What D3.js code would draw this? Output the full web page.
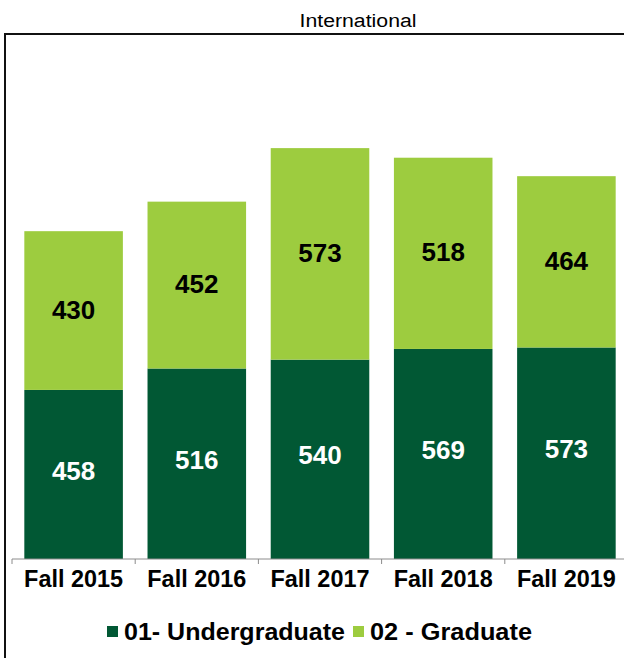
<!DOCTYPE html>
<html>
<head>
<meta charset="utf-8">
<script src="https://cdn.jsdelivr.net/npm/d3@7"></script>
<style>
  body { margin: 0; background: #fff; }
  text { font-family: "Liberation Sans", Arial, sans-serif; }
</style>
</head>
<body>
<div id="chart"></div>
<script>
// data
var terms = ["Fall 2015", "Fall 2016", "Fall 2017", "Fall 2018", "Fall 2019"];
var undergrad = [458, 516, 540, 569, 573];
var graduate = [430, 452, 573, 518, 464];
var seriesNames = ["01- Undergraduate", "02 - Graduate"];
var colors = ["#015834", "#9dcc3f"];

var W = 624, H = 658;
var svg = d3.select("#chart").append("svg")
  .attr("width", W).attr("height", H);

// outer frame (runs off the right and bottom edge)
svg.append("rect")
  .attr("x", 5).attr("y", 34)
  .attr("width", 700).attr("height", 700)
  .attr("fill", "none")
  .attr("stroke", "#111")
  .attr("stroke-width", 2);

// title
svg.append("text")
  .attr("x", 358).attr("y", 27)
  .attr("text-anchor", "middle")
  .attr("font-size", "18px")
  .attr("textLength", 117)
  .attr("lengthAdjust", "spacingAndGlyphs")
  .text("International");

// scales
var x = d3.scaleBand().domain(terms).range([12, 628])
  .paddingInner(0.2).paddingOuter(0.1);
var y = d3.scaleLinear().domain([0, 1200]).range([559, 116]);

var rows = terms.map(function (t, i) {
  return { term: t, ug: undergrad[i], gr: graduate[i] };
});

// bars
var g = svg.append("g");
rows.forEach(function (d) {
  g.append("rect")
    .attr("x", x(d.term)).attr("width", x.bandwidth())
    .attr("y", y(d.ug)).attr("height", y(0) - y(d.ug))
    .attr("fill", colors[0]);
  g.append("rect")
    .attr("x", x(d.term)).attr("width", x.bandwidth())
    .attr("y", y(d.ug + d.gr)).attr("height", y(d.ug) - y(d.ug + d.gr))
    .attr("fill", colors[1]);

  // value labels
  g.append("text")
    .attr("x", x(d.term) + x.bandwidth() / 2)
    .attr("y", (y(0) + y(d.ug)) / 2 - 4)
    .attr("dy", "0.35em")
    .attr("text-anchor", "middle")
    .attr("font-size", "26px").attr("font-weight", "bold")
    .attr("fill", "#fff")
    .text(d.ug);
  g.append("text")
    .attr("x", x(d.term) + x.bandwidth() / 2)
    .attr("y", (y(d.ug) + y(d.ug + d.gr)) / 2 - 1)
    .attr("dy", "0.35em")
    .attr("text-anchor", "middle")
    .attr("font-size", "26px").attr("font-weight", "bold")
    .attr("fill", "#000")
    .text(d.gr);
});

// x axis: line with ticks between the categories
var axis = svg.append("g").attr("transform", "translate(0,559)");
axis.append("line")
  .attr("x1", 12).attr("x2", W).attr("y1", 0).attr("y2", 0)
  .attr("stroke", "#8c8c8c");
terms.forEach(function (t) {
  var tx = x(t) - x.step() * x.paddingOuter();
  axis.append("line")
    .attr("x1", tx).attr("x2", tx).attr("y1", 0).attr("y2", 5)
    .attr("stroke", "#8c8c8c");
  axis.append("text")
    .attr("x", x(t) + x.bandwidth() / 2)
    .attr("y", 28)
    .attr("text-anchor", "middle")
    .attr("font-size", "23px").attr("font-weight", "bold")
    .attr("textLength", 99)
    .attr("lengthAdjust", "spacingAndGlyphs")
    .text(t);
});

// legend
var legX = [107, 353], legW = [221, 162];
seriesNames.forEach(function (name, i) {
  svg.append("rect")
    .attr("x", legX[i]).attr("y", 626)
    .attr("width", 11).attr("height", 11)
    .attr("fill", colors[i]);
  svg.append("text")
    .attr("x", legX[i] + 17).attr("y", 640)
    .attr("font-size", "23px").attr("font-weight", "bold")
    .attr("textLength", legW[i])
    .attr("lengthAdjust", "spacingAndGlyphs")
    .text(name);
});
</script>
</body>
</html>
